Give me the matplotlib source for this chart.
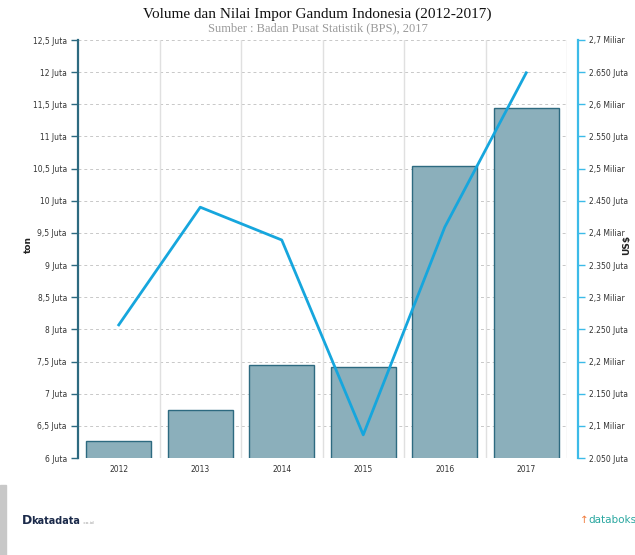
import matplotlib.pyplot as plt
from matplotlib.patches import Rectangle

years = ['2012', '2013', '2014', '2015', '2016', '2017']
volume_juta_ton = [6.26, 6.75, 7.44, 7.42, 10.54, 11.44]
nilai_miliar_usd = [2.257, 2.440, 2.389, 2.086, 2.409, 2.649]

left_ticks = [6, 6.5, 7, 7.5, 8, 8.5, 9, 9.5, 10, 10.5, 11, 11.5, 12, 12.5]
left_labels = ['6 Juta', '6,5 Juta', '7 Juta', '7,5 Juta', '8 Juta', '8,5 Juta', '9 Juta',
               '9,5 Juta', '10 Juta', '10,5 Juta', '11 Juta', '11,5 Juta', '12 Juta', '12,5 Juta']
right_ticks = [2.05, 2.1, 2.15, 2.2, 2.25, 2.3, 2.35, 2.4, 2.45, 2.5, 2.55, 2.6, 2.65, 2.7]
right_labels = ['2.050 Juta', '2,1 Miliar', '2.150 Juta', '2,2 Miliar', '2.250 Juta', '2,3 Miliar',
                '2.350 Juta', '2,4 Miliar', '2.450 Juta', '2,5 Miliar', '2.550 Juta', '2,6 Miliar',
                '2.650 Juta', '2,7 Miliar']

bar_color = '#8bafbb'
bar_edge = '#2d6a80'
line_color = '#16a6dd'
right_axis_color = '#3cbbe8'

fig = plt.figure(figsize=(6.35, 5.55), dpi=100)
ax = fig.add_axes([78 / 635, 97 / 555, 489 / 635, 418 / 555])
x = list(range(len(years)))

ax.bar(x, volume_juta_ton, width=0.8, color=bar_color, edgecolor=bar_edge, linewidth=1.0, zorder=2)
ax.set_ylim(6, 12.5)
ax.set_xlim(-0.5, len(years) - 0.5)
ax.set_yticks(left_ticks)
ax.set_yticklabels(left_labels)
ax.set_xticks(x)
ax.set_xticklabels(years)
ax.tick_params(axis='x', length=0, pad=5, labelsize=5.5, labelcolor='#333333')
ax.tick_params(axis='y', length=5, width=1, color=bar_edge, pad=3, labelsize=5.5,
               labelcolor='#333333')

# grid: dashed horizontal, solid vertical at category boundaries
for t in left_ticks:
    ax.axhline(t, color='#c8c8c8', linestyle=(0, (3, 3)), linewidth=0.7, zorder=0)
for b in range(1, len(years) + 1):
    ax.axvline(b - 0.5, color='#e0e0e0', linewidth=1.0, zorder=0)

for s in ['top', 'right', 'bottom']:
    ax.spines[s].set_visible(False)
ax.spines['left'].set_color(bar_edge)
ax.spines['left'].set_linewidth(1.6)

ax2 = ax.twinx()
ax2.plot(x, nilai_miliar_usd, color=line_color, linewidth=2, zorder=3)
ax2.set_ylim(2.05, 2.7)
ax2.set_yticks(right_ticks)
ax2.set_yticklabels(right_labels)
ax2.tick_params(axis='y', length=5, width=1, color=right_axis_color, pad=3, labelsize=5.5,
                labelcolor='#333333')
for s in ['top', 'left', 'bottom']:
    ax2.spines[s].set_visible(False)
ax2.spines['right'].set_position(('outward', 8))
ax2.spines['right'].set_color(right_axis_color)
ax2.spines['right'].set_linewidth(1.6)

fig.text(28 / 635, 1 - 245 / 555, 'ton', rotation=90, ha='center', va='center',
         fontsize=6.5, fontweight='bold', color='#222222')
fig.text(627 / 635, 1 - 245 / 555, 'US$', rotation=90, ha='center', va='center',
         fontsize=6.5, fontweight='bold', color='#222222')

fig.text(0.5, 1 - 14 / 555, 'Volume dan Nilai Impor Gandum Indonesia (2012-2017)',
         ha='center', va='center', fontsize=11, family='Liberation Serif', color='#111111')
fig.text(0.5, 1 - 28 / 555, 'Sumber : Badan Pusat Statistik (BPS), 2017',
         ha='center', va='center', fontsize=9, family='Liberation Serif', color='#9a9a9a')

# logos as text
fig.text(22 / 635, 1 - 521 / 555, 'D', ha='left', va='center', fontsize=9,
         fontweight='bold', color='#1b2a4a')
fig.text(31 / 635, 1 - 521 / 555, 'katadata', ha='left', va='center', fontsize=7,
         fontweight='bold', color='#1b2a4a')
fig.text(83 / 635, 1 - 523 / 555, '.co.id', ha='left', va='center', fontsize=3.2, color='#999999')
fig.text(588 / 635, 1 - 520 / 555, 'databoks', ha='left', va='center', fontsize=7.5,
         color='#2aa7a0')
fig.text(580 / 635, 1 - 520 / 555, '\u2191', ha='left', va='center', fontsize=7.5,
         color='#f07a3a')
fig.patches.append(Rectangle((0, 0), 6 / 635, 70 / 555, transform=fig.transFigure,
                             color='#c8c8c8', zorder=0))

fig.savefig('out.png', dpi=100)
